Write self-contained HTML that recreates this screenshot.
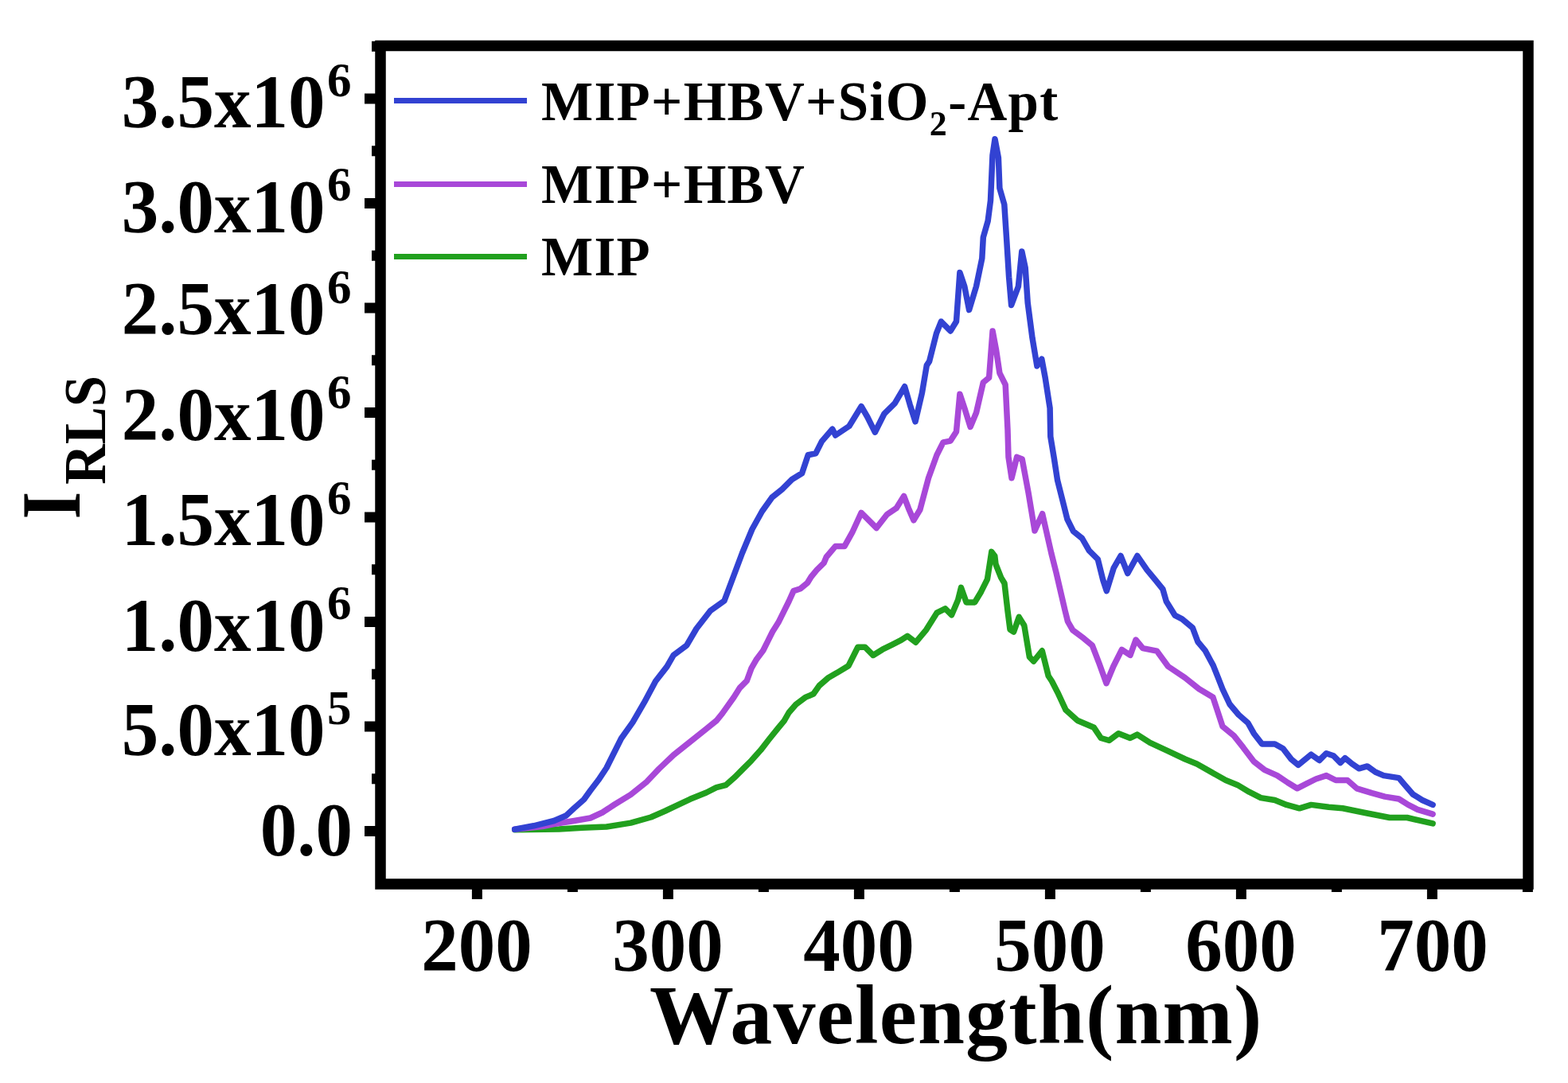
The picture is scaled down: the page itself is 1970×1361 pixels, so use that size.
<!DOCTYPE html>
<html><head><meta charset="utf-8"><title>RLS spectra</title>
<style>html,body{margin:0;padding:0;background:#fff;}svg{display:block;}</style>
</head><body>
<svg width="1970" height="1361" viewBox="0 0 1970 1361">
<rect width="1970" height="1361" fill="#ffffff"/>
<g fill="none" stroke-width="7.5" stroke-linejoin="round" stroke-linecap="round">
<path d="M646.7,1042.8 L702.3,1042.0 L731.5,1040.2 L762.0,1039.0 L792.4,1034.1 L817.8,1027.0 L836.0,1019.0 L867.0,1004.3 L887.5,996.0 L900.0,989.6 L911.8,986.7 L923.5,976.4 L933.8,966.0 L944.0,955.8 L955.8,942.6 L966.1,929.3 L977.9,914.6 L985.2,905.8 L991.1,895.5 L1000.0,885.2 L1011.7,876.4 L1022.0,872.0 L1029.3,861.7 L1041.1,851.4 L1051.4,845.6 L1066.0,836.7 L1073.4,822.0 L1077.8,813.2 L1086.7,813.2 L1097.0,823.5 L1108.7,816.2 L1120.5,810.3 L1132.2,804.4 L1140.0,799.3 L1150.6,807.2 L1163.8,791.3 L1177.0,770.2 L1187.6,764.9 L1195.6,772.8 L1203.5,754.3 L1207.5,738.4 L1214.1,756.9 L1224.7,756.9 L1232.6,743.7 L1240.5,727.8 L1245.8,693.4 L1249.8,698.7 L1251.0,709.0 L1257.7,725.8 L1262.0,733.0 L1266.0,767.7 L1269.0,791.0 L1273.6,794.0 L1280.2,775.4 L1286.8,786.0 L1293.4,825.7 L1298.7,831.0 L1309.3,817.8 L1317.2,849.5 L1321.5,856.0 L1328.8,870.2 L1339.1,892.3 L1353.8,905.5 L1374.4,914.3 L1383.2,927.5 L1393.5,930.5 L1405.2,921.7 L1419.9,927.5 L1428.8,923.1 L1444.9,933.4 L1467.0,943.7 L1489.0,954.0 L1503.7,960.0 L1540.0,980.5 L1554.7,986.4 L1569.4,995.2 L1584.1,1002.6 L1601.7,1005.5 L1616.4,1011.4 L1632.6,1015.8 L1647.3,1011.4 L1669.3,1014.3 L1687.0,1015.8 L1716.4,1021.7 L1745.8,1027.5 L1767.8,1027.5 L1800.1,1034.9" stroke="#21a01e" />
<path d="M646.7,1042.3 L681.7,1038.5 L696.0,1035.5 L721.4,1031.5 L741.7,1028.0 L756.9,1021.0 L772.1,1011.0 L792.4,998.6 L812.7,982.3 L828.0,966.1 L846.3,948.7 L867.0,932.3 L887.5,915.8 L900.0,905.8 L907.3,896.9 L922.0,876.3 L929.4,864.5 L938.2,855.7 L944.1,839.6 L950.0,829.3 L958.8,817.5 L964.6,805.8 L970.5,794.0 L977.9,782.3 L985.2,767.6 L991.1,755.8 L997.0,742.6 L1005.8,739.7 L1014.6,732.3 L1019.0,725.0 L1026.3,716.2 L1035.2,707.3 L1038.2,700.0 L1049.7,686.4 L1061.1,686.4 L1070.7,669.2 L1082.1,644.4 L1101.2,663.5 L1114.6,646.3 L1126.1,638.7 L1135.6,623.4 L1141.4,638.7 L1147.9,653.8 L1155.9,640.5 L1166.5,600.8 L1177.0,571.7 L1185.0,555.9 L1194.1,554.1 L1201.5,542.4 L1205.9,495.3 L1211.8,512.9 L1219.1,536.5 L1226.5,518.8 L1235.3,480.6 L1242.6,474.7 L1247.1,415.9 L1251.5,439.4 L1255.9,468.8 L1263.2,483.5 L1266.0,540.0 L1267.0,574.4 L1271.0,600.8 L1277.6,574.4 L1284.2,577.0 L1292.1,619.4 L1300.0,667.0 L1309.6,645.7 L1314.0,665.0 L1320.8,695.0 L1327.0,719.6 L1333.2,746.3 L1338.0,767.0 L1341.5,781.0 L1347.6,791.7 L1361.7,802.3 L1372.3,811.1 L1381.1,834.0 L1390.0,858.7 L1398.8,837.5 L1409.4,816.4 L1420.0,823.4 L1427.0,804.0 L1435.8,814.6 L1453.5,818.1 L1467.6,837.5 L1488.7,851.6 L1506.4,865.7 L1524.0,876.3 L1536.0,912.9 L1550.3,924.7 L1562.0,939.4 L1575.3,957.0 L1588.5,967.3 L1604.7,974.6 L1617.9,983.5 L1629.7,990.8 L1641.4,984.9 L1653.2,979.0 L1666.4,974.6 L1678.2,980.5 L1692.9,980.5 L1704.6,990.8 L1723.7,996.7 L1739.9,1001.1 L1757.5,1004.0 L1769.3,1011.4 L1781.0,1017.3 L1800.1,1023.1" stroke="#a848d8" />
<path d="M646.7,1042.3 L670.6,1037.8 L696.0,1031.5 L711.2,1025.0 L721.4,1015.5 L733.6,1004.7 L741.7,993.5 L751.8,980.3 L762.0,965.0 L780.5,928.0 L795.0,907.6 L809.3,882.9 L823.7,856.0 L838.0,837.6 L846.3,823.2 L862.8,810.9 L875.0,790.0 L892.5,767.5 L910.0,755.0 L917.5,735.0 L932.5,695.0 L945.0,665.0 L957.5,642.5 L970.0,625.0 L982.5,615.0 L995.0,602.5 L1007.6,594.7 L1015.3,571.8 L1024.8,569.9 L1032.5,554.6 L1045.8,539.3 L1049.7,547.0 L1066.9,535.5 L1082.1,510.7 L1089.8,524.0 L1099.3,543.2 L1110.8,520.2 L1124.2,506.9 L1136.6,485.8 L1143.3,508.8 L1150.0,529.8 L1158.5,493.5 L1164.3,459.1 L1167.6,454.1 L1176.5,418.8 L1182.4,404.1 L1194.1,415.9 L1201.5,404.1 L1205.9,342.4 L1211.8,360.0 L1217.6,389.4 L1226.5,360.0 L1233.8,324.7 L1235.3,298.2 L1241.2,277.6 L1244.5,252.0 L1247.0,195.0 L1250.0,174.7 L1254.4,198.2 L1255.9,236.5 L1261.8,257.0 L1264.7,301.2 L1267.6,348.2 L1270.6,383.5 L1279.4,360.0 L1283.8,315.9 L1288.2,336.5 L1291.2,380.6 L1297.0,424.7 L1302.9,460.0 L1308.8,451.2 L1313.2,474.7 L1319.1,512.9 L1319.8,548.6 L1324.2,575.1 L1328.6,603.7 L1335.3,630.2 L1340.8,652.2 L1348.5,667.6 L1359.5,676.5 L1368.3,691.9 L1379.3,702.9 L1385.9,729.3 L1390.3,742.6 L1399.2,713.9 L1408.0,698.5 L1416.8,720.5 L1428.9,698.5 L1441.0,716.1 L1452.0,729.3 L1460.9,740.4 L1465.3,755.8 L1476.3,773.4 L1485.1,777.8 L1498.3,788.8 L1504.9,806.5 L1514.0,817.3 L1524.3,836.4 L1530.2,851.1 L1536.0,866.0 L1545.0,885.0 L1556.2,898.2 L1567.9,908.5 L1575.3,921.7 L1585.6,935.0 L1601.7,935.0 L1612.0,940.8 L1622.3,954.1 L1631.1,961.4 L1647.3,948.2 L1657.6,955.5 L1666.4,946.7 L1675.2,949.7 L1684.0,958.5 L1689.9,952.6 L1698.7,959.9 L1707.5,965.8 L1717.8,962.9 L1728.1,970.2 L1738.4,974.6 L1757.5,977.6 L1764.9,986.4 L1775.2,998.2 L1786.9,1005.5 L1800.1,1011.4" stroke="#3242d2" />
<path d="M495,126.5 H662" stroke="#3242d2" stroke-width="7" stroke-linecap="butt" />
<path d="M495,231.5 H662" stroke="#a848d8" stroke-width="7" stroke-linecap="butt" />
<path d="M495,322.5 H662" stroke="#21a01e" stroke-width="7" stroke-linecap="butt" />
</g>
<path d="M458,1044.5 H478 M458,913.0 H478 M458,781.5 H478 M458,650.0 H478 M458,518.5 H478 M458,387.0 H478 M458,255.5 H478 M458,124.0 H478 M467,978.8 H478 M467,847.2 H478 M467,715.8 H478 M467,584.2 H478 M467,452.8 H478 M467,321.2 H478 M467,189.8 H478 M467,58.2 H478 M599.4,1130 V1111 M839.4,1130 V1111 M1079.4,1130 V1111 M1319.4,1130 V1111 M1559.4,1130 V1111 M1799.4,1130 V1111 M719.4,1121 V1111 M959.4,1121 V1111 M1199.4,1121 V1111 M1439.4,1121 V1111 M1679.4,1121 V1111 M1919.4,1121 V1111" stroke="#000" stroke-width="13" fill="none"/>
<rect x="478" y="57.5" width="1442" height="1053.5" fill="none" stroke="#000" stroke-width="13.5"/>
<g font-family="'Liberation Serif', 'Times New Roman', serif" font-weight="bold" fill="#000">
<text transform="translate(443,1075.0) scale(1,1.03)" text-anchor="end" font-size="93">0.0</text>
<text transform="translate(408.5,949.3) scale(1,1.03)" text-anchor="end" font-size="93">5.0x10</text>
<text x="411" y="909.5" font-size="61">5</text>
<text transform="translate(408.5,817.8) scale(1,1.03)" text-anchor="end" font-size="93">1.0x10</text>
<text x="411" y="778.0" font-size="61">6</text>
<text transform="translate(408.5,685.3) scale(1,1.03)" text-anchor="end" font-size="93">1.5x10</text>
<text x="411" y="645.5" font-size="61">6</text>
<text transform="translate(408.5,552.8) scale(1,1.03)" text-anchor="end" font-size="93">2.0x10</text>
<text x="411" y="513.0" font-size="61">6</text>
<text transform="translate(408.5,420.3) scale(1,1.03)" text-anchor="end" font-size="93">2.5x10</text>
<text x="411" y="380.5" font-size="61">6</text>
<text transform="translate(408.5,291.8) scale(1,1.03)" text-anchor="end" font-size="93">3.0x10</text>
<text x="411" y="252.0" font-size="61">6</text>
<text transform="translate(408.5,160.3) scale(1,1.03)" text-anchor="end" font-size="93">3.5x10</text>
<text x="411" y="120.5" font-size="61">6</text>
<text transform="translate(598.9,1220) scale(1,1.03)" text-anchor="middle" font-size="93">200</text>
<text transform="translate(838.9,1220) scale(1,1.03)" text-anchor="middle" font-size="93">300</text>
<text transform="translate(1078.9,1220) scale(1,1.03)" text-anchor="middle" font-size="93">400</text>
<text transform="translate(1318.9,1220) scale(1,1.03)" text-anchor="middle" font-size="93">500</text>
<text transform="translate(1558.9,1220) scale(1,1.03)" text-anchor="middle" font-size="93">600</text>
<text transform="translate(1799.9,1220) scale(1,1.03)" text-anchor="middle" font-size="93">700</text>
<text x="816" y="1310.5" font-size="106" letter-spacing="1.2">Wavelength(nm)</text>
<g transform="translate(100,651) rotate(-90)"><text transform="translate(-1.5,0) scale(0.85,1)" x="0" y="0" font-size="105">I</text><text transform="translate(42,31.5) scale(0.965,1)" x="0" y="0" font-size="73">RLS</text></g>
<text x="680" y="150.5" font-size="69" letter-spacing="1.3">MIP+HBV+SiO<tspan font-size="44" dy="19">2</tspan><tspan dy="-19">-Apt</tspan></text>
<text x="680" y="254.7" font-size="69" letter-spacing="1.3">MIP+HBV</text>
<text x="680" y="346" font-size="69" letter-spacing="1.3">MIP</text>
</g>
</svg>
</body></html>
